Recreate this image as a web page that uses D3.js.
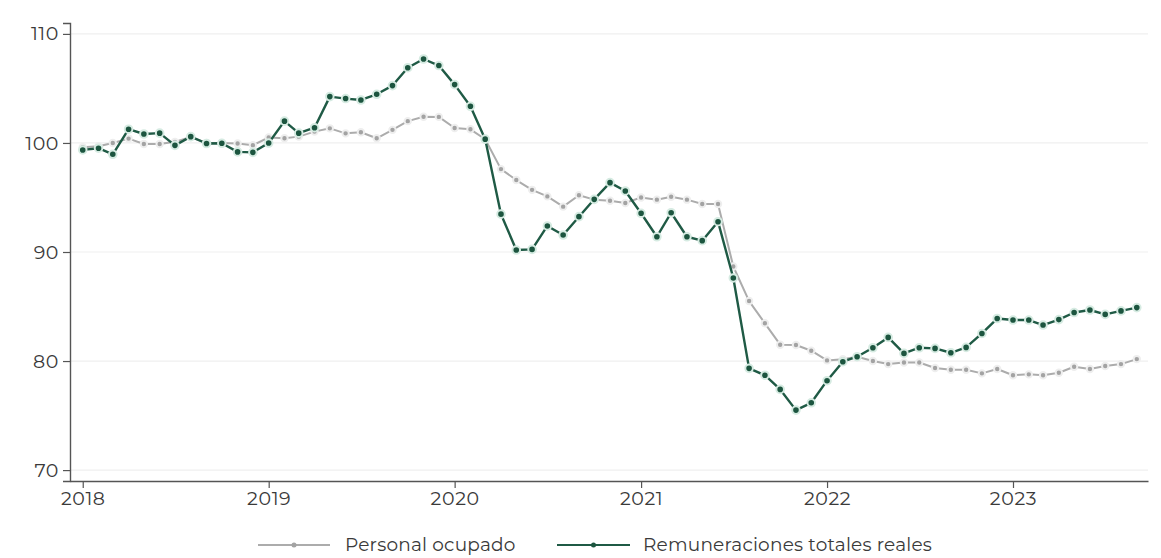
<!DOCTYPE html>
<html>
<head>
<meta charset="utf-8">
<script src="https://cdn.jsdelivr.net/npm/d3@7"></script>
<style>
  html, body { margin: 0; padding: 0; background: #fff; }
  svg { display: block; }
  text { font-family: Montserrat, "Noto Sans", "Open Sans", sans-serif; fill: #3a3a3a; }
</style>
</head>
<body>
<svg id="chart" width="1161" height="558"></svg>
<script>
// ---- data ----
const startYear = 2018;
const months = d3.range(69).map(i => new Date(startYear, i, 1));

const personalOcupado = [
  99.6, 99.7, 100.0, 100.4, 99.9, 99.9, 100.1, 100.55, 100.0, 100.0, 99.95, 99.8,
  100.5, 100.43, 100.58, 101.04, 101.34, 100.88, 100.98, 100.43, 101.2, 102.0, 102.4, 102.39,
  101.37, 101.25, 100.34, 97.6, 96.6, 95.7, 95.1, 94.16, 95.2, 94.8, 94.7, 94.5,
  95.0, 94.8, 95.07, 94.8, 94.4, 94.4, 88.67, 85.5, 83.46, 81.5, 81.47, 80.95,
  80.06, 80.17, 80.4, 80.0, 79.72, 79.87, 79.87, 79.36, 79.2, 79.2, 78.87, 79.27,
  78.7, 78.78, 78.7, 78.93, 79.48, 79.27, 79.54, 79.72, 80.18
];

const remuneraciones = [
  99.36, 99.52, 98.96, 101.26, 100.82, 100.9, 99.78, 100.58, 99.95, 99.97, 99.18, 99.14,
  99.99, 102.0, 100.9, 101.4, 104.25, 104.07, 103.94, 104.46, 105.26, 106.9, 107.7, 107.1,
  105.35, 103.36, 100.35, 93.47, 90.18, 90.24, 92.39, 91.56, 93.24, 94.83, 96.36, 95.6,
  93.55, 91.4, 93.6, 91.4, 91.04, 92.78, 87.62, 79.33, 78.7, 77.4, 75.5, 76.17,
  78.2, 79.94, 80.4, 81.22, 82.17, 80.7, 81.22, 81.16, 80.76, 81.25, 82.53, 83.9,
  83.76, 83.76, 83.3, 83.8, 84.45, 84.68, 84.28, 84.6, 84.9
];

const yTicks = [70, 80, 90, 100, 110];
const xTickYears = [2018, 2019, 2020, 2021, 2022, 2023];
const seriesNames = ["Personal ocupado", "Remuneraciones totales reales"];

// ---- layout ----
const svg = d3.select("#chart");
const mLeft = 70, mRight = 1148, mTop = 23, mBottom = 481;
const fontStack = 'Montserrat, "Noto Sans", sans-serif';

const x = d3.scaleTime()
  .domain([new Date(2017, 11, 7), new Date(2023, 8, 23)])
  .range([mLeft, mRight]);
const y = d3.scaleLinear().domain([69, 111]).range([mBottom, mTop]);

// grid
svg.append("g")
  .selectAll("line")
  .data(yTicks)
  .join("line")
  .attr("x1", mLeft).attr("x2", mRight)
  .attr("y1", d => y(d)).attr("y2", d => y(d))
  .attr("stroke", "#efefef").attr("stroke-width", 1.2);

// axes
const yAxis = svg.append("g")
  .attr("transform", `translate(${mLeft},0)`)
  .call(d3.axisLeft(y).tickValues(yTicks).tickSize(7).tickPadding(4).tickFormat(d3.format("d")));
yAxis.select(".domain").attr("stroke", "#555").attr("stroke-width", 1.4);
yAxis.selectAll(".tick line").attr("stroke", "#555").attr("stroke-width", 1.2);
yAxis.selectAll("text").attr("font-size", 19).attr("font-weight", 400).attr("fill", "#383838")
  .attr("letter-spacing", 0.6)
  .style("font-family", fontStack);

const xAxis = svg.append("g")
  .attr("transform", `translate(0,${mBottom})`)
  .call(d3.axisBottom(x).tickValues(xTickYears.map(yr => new Date(yr, 0, 1)))
    .tickSize(7).tickPadding(4).tickFormat(d3.timeFormat("%Y")).tickSizeOuter(0));
xAxis.select(".domain").attr("stroke", "#555").attr("stroke-width", 1.4);
xAxis.selectAll(".tick line").attr("stroke", "#555").attr("stroke-width", 1.2);
xAxis.selectAll("text").attr("font-size", 19).attr("font-weight", 400).attr("fill", "#383838")
  .attr("letter-spacing", 0.6)
  .style("font-family", fontStack);

// series
const series = [
  { name: seriesNames[0], values: personalOcupado, line: "#acacac", dot: "#a3a3a3", halo: "#eeeeee", lw: 2, r: 3.2 },
  { name: seriesNames[1], values: remuneraciones, line: "#1f5a45", dot: "#1c553f", halo: "#d6ebe2", lw: 2.4, r: 3.8 }
];

const line = d3.line().x((d, i) => x(months[i])).y(d => y(d));

series.forEach(s => {
  const g = svg.append("g");
  g.append("path")
    .datum(s.values)
    .attr("d", line)
    .attr("fill", "none")
    .attr("stroke", s.line)
    .attr("stroke-width", s.lw)
    .attr("stroke-linejoin", "round");
  g.selectAll("circle")
    .data(s.values)
    .join("circle")
    .attr("cx", (d, i) => x(months[i]))
    .attr("cy", d => y(d))
    .attr("r", s.r)
    .attr("fill", s.dot)
    .attr("stroke", s.halo)
    .attr("stroke-width", 2);
});

// legend
const legendItems = [
  { name: seriesNames[0], x1: 258, x2: 330, tx: 345, s: series[0] },
  { name: seriesNames[1], x1: 557, x2: 630, tx: 643, s: series[1] }
];
const ly = 545;
const lg = svg.append("g");
legendItems.forEach(it => {
  lg.append("line")
    .attr("x1", it.x1).attr("x2", it.x2).attr("y1", ly).attr("y2", ly)
    .attr("stroke", it.s.line).attr("stroke-width", 2);
  lg.append("circle")
    .attr("cx", (it.x1 + it.x2) / 2).attr("cy", ly).attr("r", 2.5)
    .attr("fill", it.s.dot);
  lg.append("text")
    .attr("x", it.tx).attr("y", ly)
    .attr("dy", "0.35em")
    .attr("font-size", 18.5).attr("font-weight", 400)
    .attr("letter-spacing", 0.2)
    .attr("fill", "#383838")
    .text(it.name);
});
</script>
</body>
</html>
